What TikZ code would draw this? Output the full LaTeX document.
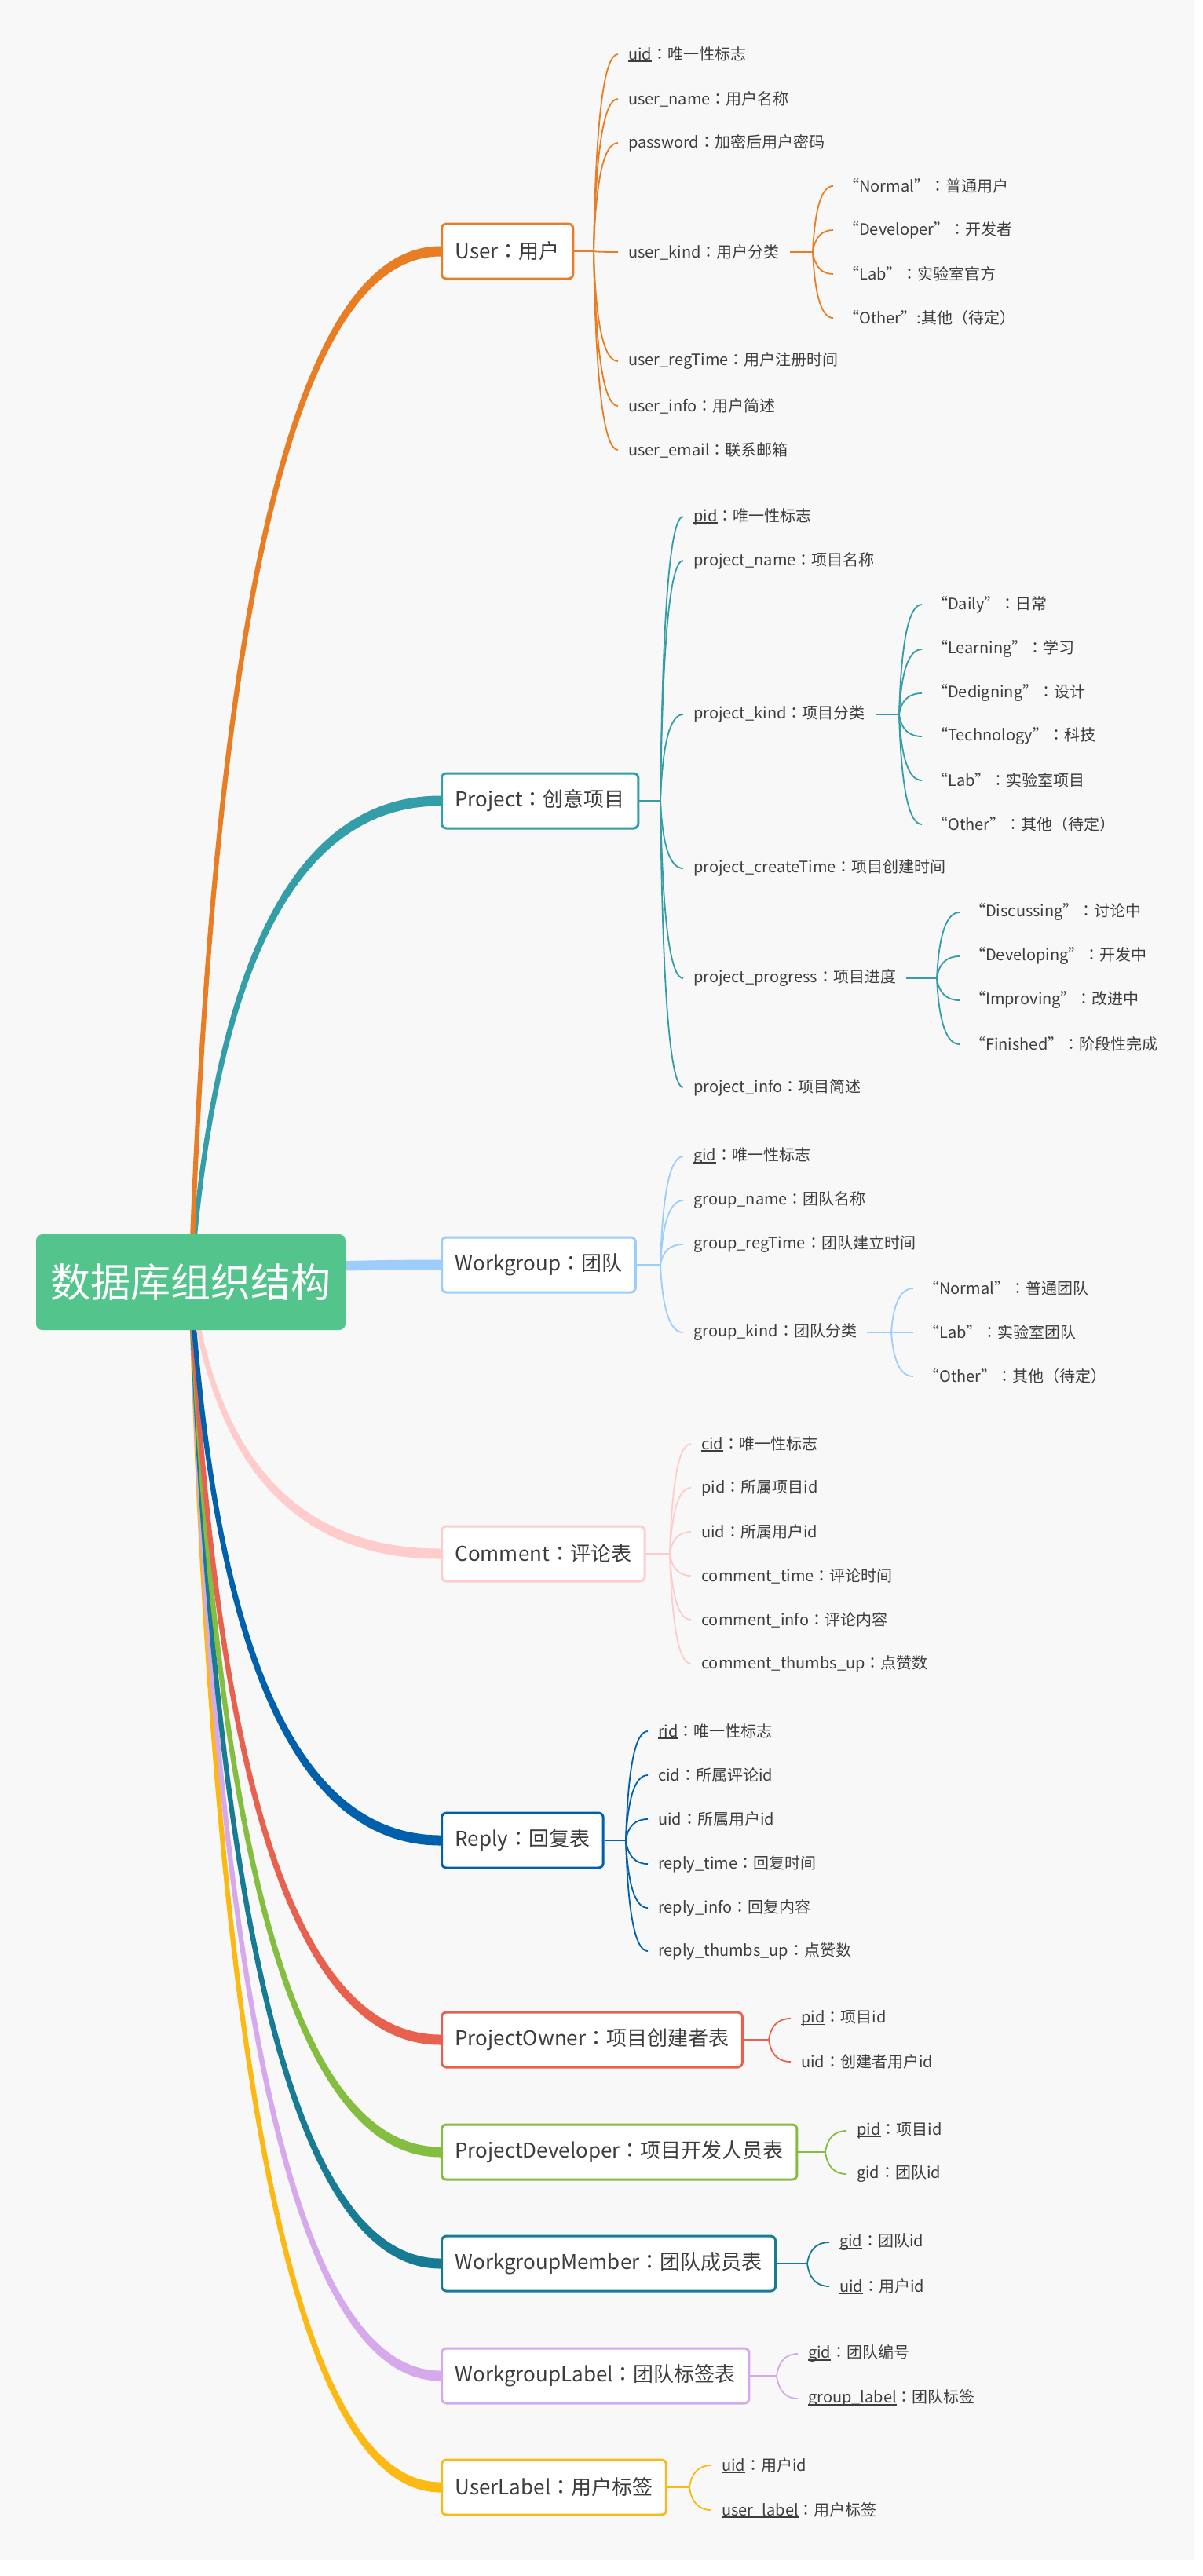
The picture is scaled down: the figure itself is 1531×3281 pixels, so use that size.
\documentclass[tikz,border=0pt]{standalone}
\usepackage{fontspec}
\setmainfont{Noto Sans CJK SC}
\newfontfamily\tcfont{Noto Sans CJK TC}
\usetikzlibrary{calc,backgrounds}

\definecolor{paper}{HTML}{F8F8F8}
\definecolor{ink}{HTML}{3D3D3D}
\definecolor{rootgreen}{HTML}{52C48C}
\definecolor{userc}{HTML}{E97D23}
\definecolor{projc}{HTML}{339DA8}
\definecolor{groupc}{HTML}{9DCDFC}
\definecolor{commc}{HTML}{FFCCCC}
\definecolor{replyc}{HTML}{0060AC}
\definecolor{ownerc}{HTML}{E8614F}
\definecolor{devc}{HTML}{84BE41}
\definecolor{memberc}{HTML}{177C93}
\definecolor{labelc}{HTML}{D6A8EC}
\definecolor{ulabelc}{HTML}{FDB913}

\newcommand{\keyfield}[1]{\setbox0=\hbox{#1}\rlap{\rule[-0.13em]{\wd0}{0.07em}}\box0}
\newcommand{\kc}{{\tcfont ：}}

\tikzset{
  rootbox/.style={fill=rootgreen, rounded corners=8pt, text=white, inner sep=0pt,
    minimum width=394pt, minimum height=122pt, font=\fontsize{51}{60}\selectfont},
  topic/.style={draw=#1, line width=3pt, fill=white, rounded corners=6pt, anchor=west,
    minimum height=70pt, inner xsep=17pt, text=ink, font=\fontsize{26}{32}\selectfont},
  item/.style={anchor=west, inner xsep=13pt, text=ink, font=\fontsize{20}{24}\selectfont},
  stem/.style={line width=2.5pt},
  twig/.style={line width=1.8pt},
  bendto/.style={to path={let \p1=(\tikztostart), \p2=(\tikztotarget) in
    .. controls ({\x1+0.667*#1}, {0.333*\y1+0.667*\y2})
    and ({0.333*\x2+0.667*\x1+0.667*#1}, \y2) .. (\tikztotarget)}},
  bendfrom/.style={to path={let \p1=(\tikztostart), \p2=(\tikztotarget) in
    .. controls ({0.333*\x1+0.667*\x2+0.667*#1}, \y1)
    and ({\x2+0.667*#1}, {0.333*\y2+0.667*\y1}) .. (\tikztotarget)}},
}

\begin{document}
\begin{tikzpicture}[x=1pt, y=-1pt]
    \useasboundingbox (0,0) rectangle (1531,3281);

    % Root
    \node[rootbox] (root) at (243,1633) {数据库组织结构};

    % User
    \node[topic=userc] (user) at (561,320) {User\kc 用户};
    \coordinate (user-hub) at (756,320);
    \node[item] (u1) at (787,69) {\keyfield{uid}\kc 唯一性标志};
    \node[item] (u2) at (787,126) {user\_name\kc 用户名称};
    \node[item] (u3) at (787,182) {password\kc 加密后用户密码};
    \node[item] (u4) at (787,321) {user\_kind\kc 用户分类};
    \node[item] (u5) at (787,460) {user\_regTime\kc 用户注册时间};
    \node[item] (u6) at (787,517) {user\_info\kc 用户简述};
    \node[item] (u7) at (787,573) {user\_email\kc 联系邮箱};
    \coordinate (uk-hub) at (1035,321);
    \node[item] (uk1) at (1061,237) {“Normal”\kc 普通用户};
    \node[item] (uk2) at (1061,293) {“Developer”\kc 开发者};
    \node[item] (uk3) at (1061,349) {“Lab”\kc 实验室官方};
    \node[item] (uk4) at (1061,405) {“Other”:其他（待定）};
    \draw[stem, userc] (user.east) -- (user-hub);
    \foreach \i in {1,...,7} \draw[twig, userc] (user-hub) to[bendto=4pt] (u\i.west);
    \draw[stem, userc] (u4.east) -- (uk-hub);
    \foreach \i in {1,...,4} \draw[twig, userc] (uk-hub) to[bendto=4pt] (uk\i.west);

    % Project
    \node[topic=projc] (project) at (561,1020) {Project\kc 创意项目};
    \coordinate (project-hub) at (841,1020);
    \node[item] (p1) at (870,658) {\keyfield{pid}\kc 唯一性标志};
    \node[item] (p2) at (870,714) {project\_name\kc 项目名称};
    \node[item] (p3) at (870,910) {project\_kind\kc 项目分类};
    \node[item] (p4) at (870,1106) {project\_createTime\kc 项目创建时间};
    \node[item] (p5) at (870,1246) {project\_progress\kc 项目进度};
    \node[item] (p6) at (870,1385) {project\_info\kc 项目简述};
    \coordinate (pk-hub) at (1145,910);
    \node[item] (pk1) at (1174,770) {“Daily”\kc 日常};
    \node[item] (pk2) at (1174,827) {“Learning”\kc 学习};
    \node[item] (pk3) at (1174,883) {“Dedigning”\kc 设计};
    \node[item] (pk4) at (1174,938) {“Technology”\kc 科技};
    \node[item] (pk5) at (1174,994) {“Lab”\kc 实验室项目};
    \node[item] (pk6) at (1174,1050) {“Other”\kc 其他（待定）};
    \coordinate (pp-hub) at (1193,1246);
    \node[item] (pp1) at (1222,1162) {“Discussing”\kc 讨论中};
    \node[item] (pp2) at (1222,1218) {“Developing”\kc 开发中};
    \node[item] (pp3) at (1222,1274) {“Improving”\kc 改进中};
    \node[item] (pp4) at (1222,1330) {“Finished”\kc 阶段性完成};
    \draw[stem, projc] (project.east) -- (project-hub);
    \foreach \i in {1,...,6} \draw[twig, projc] (project-hub) to[bendto=4pt] (p\i.west);
    \draw[stem, projc] (p3.east) -- (pk-hub);
    \foreach \i in {1,...,6} \draw[twig, projc] (pk-hub) to[bendto=4pt] (pk\i.west);
    \draw[stem, projc] (p5.east) -- (pp-hub);
    \foreach \i in {1,...,4} \draw[twig, projc] (pp-hub) to[bendto=4pt] (pp\i.west);

    % Workgroup
    \node[topic=groupc] (group) at (561,1611) {Workgroup\kc 团队};
    \coordinate (group-hub) at (841,1611);
    \node[item] (g1) at (870,1473) {\keyfield{gid}\kc 唯一性标志};
    \node[item] (g2) at (870,1529) {group\_name\kc 团队名称};
    \node[item] (g3) at (870,1585) {group\_regTime\kc 团队建立时间};
    \node[item] (g4) at (870,1697) {group\_kind\kc 团队分类};
    \coordinate (gk-hub) at (1135,1697);
    \node[item] (gk1) at (1163,1641) {“Normal”\kc 普通团队};
    \node[item] (gk2) at (1163,1697) {“Lab”\kc 实验室团队};
    \node[item] (gk3) at (1163,1753) {“Other”\kc 其他（待定）};
    \draw[stem, groupc] (group.east) -- (group-hub);
    \foreach \i in {1,...,4} \draw[twig, groupc] (group-hub) to[bendto=4pt] (g\i.west);
    \draw[stem, groupc] (g4.east) -- (gk-hub);
    \foreach \i in {1,...,3} \draw[twig, groupc] (gk-hub) to[bendto=4pt] (gk\i.west);

    % Comment
    \node[topic=commc] (comment) at (561,1979) {Comment\kc 评论表};
    \coordinate (comment-hub) at (853,1979);
    \node[item] (c1) at (880,1839) {\keyfield{cid}\kc 唯一性标志};
    \node[item] (c2) at (880,1895) {pid\kc 所属项目id};
    \node[item] (c3) at (880,1951) {uid\kc 所属用户id};
    \node[item] (c4) at (880,2007) {comment\_time\kc 评论时间};
    \node[item] (c5) at (880,2063) {comment\_info\kc 评论内容};
    \node[item] (c6) at (880,2119) {comment\_thumbs\_up\kc 点赞数};
    \draw[stem, commc] (comment.east) -- (comment-hub);
    \foreach \i in {1,...,6} \draw[twig, commc] (comment-hub) to[bendto=4pt] (c\i.west);

    % Reply
    \node[topic=replyc] (reply) at (561,2344) {Reply\kc 回复表};
    \coordinate (reply-hub) at (797,2344);
    \node[item] (r1) at (825,2205) {\keyfield{rid}\kc 唯一性标志};
    \node[item] (r2) at (825,2261) {cid\kc 所属评论id};
    \node[item] (r3) at (825,2317) {uid\kc 所属用户id};
    \node[item] (r4) at (825,2374) {reply\_time\kc 回复时间};
    \node[item] (r5) at (825,2430) {reply\_info\kc 回复内容};
    \node[item] (r6) at (825,2485) {reply\_thumbs\_up\kc 点赞数};
    \draw[stem, replyc] (reply.east) -- (reply-hub);
    \foreach \i in {1,...,6} \draw[twig, replyc] (reply-hub) to[bendto=4pt] (r\i.west);

    % ProjectOwner
    \node[topic=ownerc] (owner) at (561,2598) {ProjectOwner\kc 项目创建者表};
    \coordinate (owner-hub) at (979,2598);
    \node[item] (o1) at (1007,2571) {\keyfield{pid}\kc 项目id};
    \node[item] (o2) at (1007,2626) {uid\kc 创建者用户id};
    \draw[stem, ownerc] (owner.east) -- (owner-hub);
    \foreach \i in {1,2} \draw[twig, ownerc] (owner-hub) to[bendto=4pt] (o\i.west);

    % ProjectDeveloper
    \node[topic=devc] (developer) at (561,2741) {ProjectDeveloper\kc 项目开发人员表};
    \coordinate (developer-hub) at (1051,2741);
    \node[item] (d1) at (1078,2714) {\keyfield{pid}\kc 项目id};
    \node[item] (d2) at (1078,2769) {gid\kc 团队id};
    \draw[stem, devc] (developer.east) -- (developer-hub);
    \foreach \i in {1,2} \draw[twig, devc] (developer-hub) to[bendto=4pt] (d\i.west);

    % WorkgroupMember
    \node[topic=memberc] (member) at (561,2883) {WorkgroupMember\kc 团队成员表};
    \coordinate (member-hub) at (1028,2883);
    \node[item] (m1) at (1056,2856) {\keyfield{gid}\kc 团队id};
    \node[item] (m2) at (1056,2912) {\keyfield{uid}\kc 用户id};
    \draw[stem, memberc] (member.east) -- (member-hub);
    \foreach \i in {1,2} \draw[twig, memberc] (member-hub) to[bendto=4pt] (m\i.west);

    % WorkgroupLabel
    \node[topic=labelc] (glabel) at (561,3026) {WorkgroupLabel\kc 团队标签表};
    \coordinate (glabel-hub) at (989,3026);
    \node[item] (gl1) at (1016,2998) {\keyfield{gid}\kc 团队编号};
    \node[item] (gl2) at (1016,3055) {\keyfield{group\_label}\kc 团队标签};
    \draw[stem, labelc] (glabel.east) -- (glabel-hub);
    \foreach \i in {1,2} \draw[twig, labelc] (glabel-hub) to[bendto=4pt] (gl\i.west);

    % UserLabel
    \node[topic=ulabelc] (ulabel) at (561,3168) {UserLabel\kc 用户标签};
    \coordinate (ulabel-hub) at (878,3168);
    \node[item] (ul1) at (906,3140) {\keyfield{uid}\kc 用户id};
    \node[item] (ul2) at (906,3197) {\keyfield{user\_label}\kc 用户标签};
    \draw[stem, ulabelc] (ulabel.east) -- (ulabel-hub);
    \foreach \i in {1,2} \draw[twig, ulabelc] (ulabel-hub) to[bendto=4pt] (ul\i.west);

    % Main branches (thin at the root, thick at the topic), behind everything
    \begin{scope}[on background layer]
        \fill[white] (0,0) rectangle (1531,3281);
        \fill[paper] (0,0) rectangle (1521,3260);
        \foreach \t/\clr/\s in {ulabel/ulabelc/-1, glabel/labelc/-1, member/memberc/-1,
            developer/devc/-1, owner/ownerc/-1, reply/replyc/-1, comment/commc/-1,
            group/groupc/1, project/projc/1, user/userc/1}
            \fill[\clr] ($(root.center)+(-3,0)$) to[bendto=45pt] ($(\t.west)+(0,-6.5*\s)$)
                -- ($(\t.west)+(0,6.5*\s)$) to[bendfrom=45pt] ($(root.center)+(3,0)$) -- cycle;
    \end{scope}
\end{tikzpicture}
\end{document}
